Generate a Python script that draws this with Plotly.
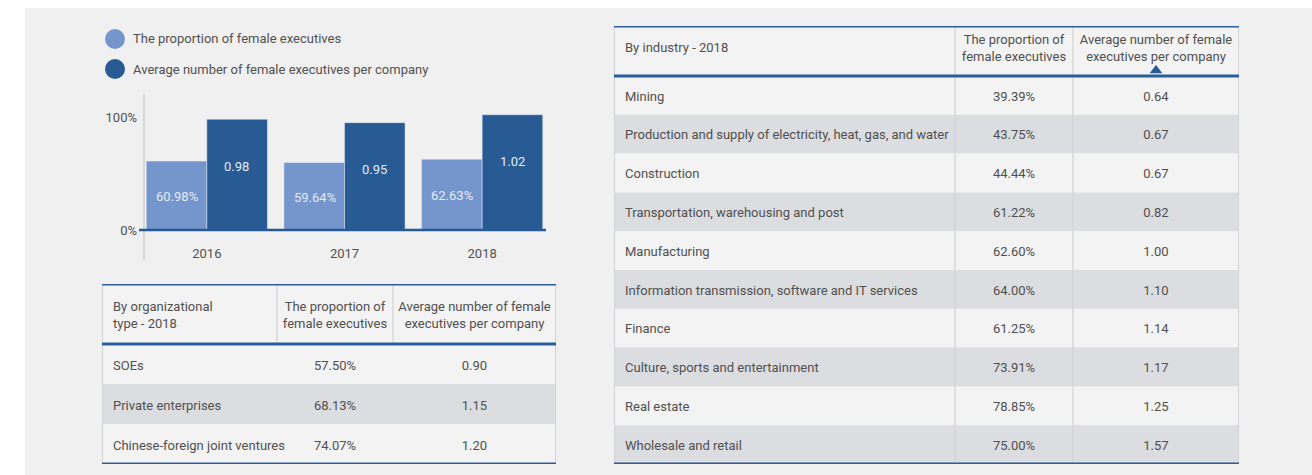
import plotly.graph_objects as go

W, H = 1312, 475

# bar chart data
years = ["2016", "2017", "2018"]
share_female = [60.98, 59.64, 62.63]
avg_female = [0.98, 0.95, 1.02]
series_names = ["The proportion of female executives",
                "Average number of female executives per company"]

# table: by organizational type
org_header = ["By organizational<br>type - 2018", "The proportion of<br>female executives",
              "Average number of female<br>executives per company"]
org_types = ["SOEs", "Private enterprises", "Chinese-foreign joint ventures"]
org_share = [57.50, 68.13, 74.07]
org_avg = [0.90, 1.15, 1.20]

# table: by industry
ind_header = ["By industry - 2018", "The proportion of<br>female executives",
              "Average number of female<br>executives per company"]
industries = ["Mining", "Production and supply of electricity, heat, gas, and water",
              "Construction", "Transportation, warehousing and post", "Manufacturing",
              "Information transmission, software and IT services", "Finance",
              "Culture, sports and entertainment", "Real estate", "Wholesale and retail"]
ind_share = [39.39, 43.75, 44.44, 61.22, 62.60, 64.00, 61.25, 73.91, 78.85, 75.00]
ind_avg = [0.64, 0.67, 0.67, 0.82, 1.00, 1.10, 1.14, 1.17, 1.25, 1.57]

FONT = "Roboto, Liberation Sans, sans-serif"
FS = 13
TXT = "#505050"
LIGHT = "#7596cc"
DARK = "#285a93"
LINE_BLUE = "#2c5e9b"
ROW_GREY = "#dcdde0"
ROW_LIGHT = "#f3f3f3"
BORDER = "#d2d3d5"
LABEL = "#e4eaf5"


def fx(p):
    return p / W


def fy(p):
    return 1 - p / H


fig = go.Figure()

# ---- bar chart ----
ZERO_Y, FULL_Y = 230, 117   # pixel rows of 0% and 100%
per_px = 100 / (ZERO_Y - FULL_Y)
fig.add_trace(go.Bar(x=years, y=share_female, name=series_names[0], marker_color=LIGHT,
                     offsetgroup="a", xaxis="x", yaxis="y",
                     hoverinfo="skip", showlegend=False))
fig.add_trace(go.Bar(x=years, y=[v * 100 for v in avg_female], name=series_names[1],
                     offsetgroup="b", xaxis="x", yaxis="y",
                     marker_color=DARK, hoverinfo="skip", showlegend=False))
# value labels: proportion centred in its bar, average a fixed distance under the bar top
# (category axes take the serial number of the category for annotations)
for i, (v, a) in enumerate(zip(share_female, avg_female)):
    fig.add_annotation(x=i, y=v / 2, xref="x", yref="y", xshift=-30, yshift=-1,
                       text=f"{v:.2f}%", showarrow=False,
                       font=dict(family=FONT, size=FS, color=LABEL))
    fig.add_annotation(x=i, y=a * 100, xref="x", yref="y", xshift=30, yshift=-47,
                       text=f"{a:.2f}", showarrow=False,
                       font=dict(family=FONT, size=FS, color=LABEL))

bottom_px = 244
fig.update_layout(
    xaxis=dict(type="category", categoryorder="array", categoryarray=years,
               range=[-0.5, len(years) - 0.5], anchor="y",
               domain=[fx(138), fx(551)], showgrid=False, zeroline=False,
               showline=False, ticks="", automargin=False,
               tickfont=dict(family=FONT, size=FS, color=TXT), fixedrange=True),
    yaxis=dict(domain=[fy(bottom_px), fy(94)], anchor="x",
               range=[(ZERO_Y - bottom_px) * per_px, (ZERO_Y - 94) * per_px],
               tickvals=[0, 100], ticktext=["0%", "100%"], showgrid=False, zeroline=False,
               showline=False, ticks="", automargin=False,
               tickfont=dict(family=FONT, size=FS, color=TXT), fixedrange=True),
    barmode="group", bargap=0.12, bargroupgap=0,
)

shapes = []
# page background strips
shapes.append(dict(type="rect", xref="paper", yref="paper", x0=0, x1=fx(25), y0=0, y1=1,
                   fillcolor="white", line_width=0, layer="below"))
shapes.append(dict(type="rect", xref="paper", yref="paper", x0=0, x1=1, y0=fy(8), y1=1,
                   fillcolor="white", line_width=0, layer="below"))
# axis lines
shapes.append(dict(type="line", xref="paper", yref="paper", x0=fx(144), x1=fx(144),
                   y0=fy(260), y1=fy(94), line=dict(color="#cfcfcf", width=1.5)))
shapes.append(dict(type="line", xref="paper", yref="y", x0=fx(139), x1=fx(546), y0=0, y1=0,
                   line=dict(color=DARK, width=2.5)))

# legend
for i, (name, col) in enumerate(zip(series_names, [LIGHT, DARK])):
    cy = 39 + 30 * i
    shapes.append(dict(type="circle", xref="paper", yref="paper", x0=fx(105), x1=fx(125),
                       y0=fy(cy + 10), y1=fy(cy - 10), fillcolor=col, line_width=0))
    fig.add_annotation(x=fx(131), y=fy(cy), xref="paper", yref="paper", xanchor="left",
                       yanchor="middle", text=name, showarrow=False,
                       font=dict(family=FONT, size=FS, color=TXT))


# ---- tables ----
def add_table(k, box, col_w, hdr_rows, header, names, shares, avgs, full_dividers,
              hdr_nudge, body_nudge):
    left, top, right, bottom = box
    n = len(names)
    xr, yr = f"x{k}", f"y{k}"
    total_w = sum(col_w)
    fig.update_layout(**{
        f"xaxis{k}": dict(domain=[fx(left), fx(right)], range=[0, total_w], visible=False,
                          anchor=yr, fixedrange=True, automargin=False),
        f"yaxis{k}": dict(domain=[fy(bottom), fy(top)], range=[n, -hdr_rows], visible=False,
                          anchor=xr, fixedrange=True, automargin=False),
    })
    # header background
    shapes.append(dict(type="rect", xref=xr, yref=yr, x0=0, x1=total_w, y0=-hdr_rows, y1=0,
                       fillcolor=ROW_LIGHT, line_width=0, layer="below"))
    # row bands
    rows = list(range(n))
    ys = [r + 0.5 for r in rows]
    fig.add_trace(go.Bar(x=[total_w] * n, y=ys, base=0, width=1,
                         orientation="h", xaxis=xr, yaxis=yr,
                         marker=dict(color=[ROW_GREY if r % 2 else ROW_LIGHT for r in rows],
                                     line_width=0),
                         hoverinfo="skip", showlegend=False))
    x_edges = [0, col_w[0], col_w[0] + col_w[1], total_w]
    centers = [(x_edges[i] + x_edges[i + 1]) / 2 for i in range(3)]
    f = dict(family=FONT, size=FS, color=TXT)
    pad = 11
    common = dict(mode="text", textfont=f, xaxis=xr, yaxis=yr, hoverinfo="skip",
                  showlegend=False, cliponaxis=False)
    hy = -hdr_rows / 2 + hdr_nudge
    ty = [y + body_nudge for y in ys]
    # header text
    fig.add_trace(go.Scatter(x=[pad], y=[hy], text=[header[0]],
                             textposition="middle right", **common))
    fig.add_trace(go.Scatter(x=centers[1:], y=[hy] * 2, text=header[1:],
                             textposition="middle center", **common))
    # body text
    fig.add_trace(go.Scatter(x=[pad] * n, y=ty, text=names,
                             textposition="middle right", **common))
    fig.add_trace(go.Scatter(x=[centers[1]] * n, y=ty, text=[f"{v:.2f}%" for v in shares],
                             textposition="middle center", **common))
    fig.add_trace(go.Scatter(x=[centers[2]] * n, y=ty, text=[f"{v:.2f}" for v in avgs],
                             textposition="middle center", **common))
    # borders
    for xe in (0, total_w):
        shapes.append(dict(type="line", xref=xr, yref=yr, x0=xe, x1=xe, y0=-hdr_rows, y1=n,
                           line=dict(color=BORDER, width=2)))
    for xe in x_edges[1:3]:
        shapes.append(dict(type="line", xref=xr, yref=yr, x0=xe, x1=xe, y0=-hdr_rows,
                           y1=n if full_dividers else 0, line=dict(color=BORDER, width=1.2)))
    for ye in (-hdr_rows, 0, n):
        shapes.append(dict(type="line", xref=xr, yref=yr, x0=0, x1=total_w, y0=ye, y1=ye,
                           line=dict(color=LINE_BLUE, width=3)))
    return centers


add_table(2, (102, 284, 556, 464), [175, 116, 163], 1.5,
          org_header, org_types, org_share, org_avg, False, 0.05, 0.08)
c = add_table(3, (614, 26, 1239, 464), [341, 118, 166], 50 / 38.8,
              ind_header, industries, ind_share, ind_avg, True, -0.05, 0.05)
# sort marker under the last header
fig.add_trace(go.Scatter(x=[c[2]], y=[-0.14], mode="markers",
                         marker=dict(symbol="triangle-up", size=11, color=DARK),
                         xaxis="x3", yaxis="y3", hoverinfo="skip", showlegend=False))

fig.update_layout(width=W, height=H, margin=dict(l=0, r=0, t=0, b=0, autoexpand=False),
                  paper_bgcolor="#f0f0f0", plot_bgcolor="rgba(0,0,0,0)",
                  shapes=shapes, showlegend=False, hovermode=False,
                  font=dict(family=FONT, color=TXT))

# drop the browser's default body margin so the figure sits at the page origin
fig.write_html("out.html", config={"displayModeBar": False},
               post_script="document.body.style.margin='0px';")
